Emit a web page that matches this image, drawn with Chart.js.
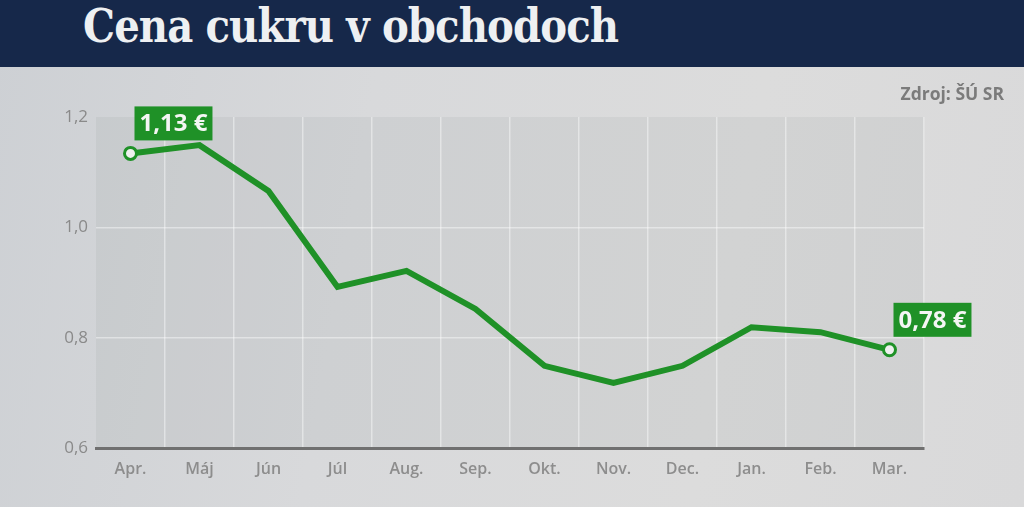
<!DOCTYPE html>
<html lang="sk">
<head>
    <meta charset="UTF-8">
    <title>Cena cukru v obchodoch</title>
    <script src="https://cdn.jsdelivr.net/npm/chart.js"></script>
    <style>
        html, body { margin: 0; padding: 0; }
        body {
            width: 1024px; height: 507px; overflow: hidden; position: relative;
            background: linear-gradient(100deg, #cdd0d4 0%, #d8d9db 35%, #dcdcdc 70%, #d9d9da 100%);
        }
        .header {
            position: absolute; left: 0; top: 0; width: 1024px; height: 67px;
            background: #16284a;
        }
        .header h1 {
            margin: 0; position: absolute; left: 83px; top: -1px;
            font-family: "DejaVu Serif", serif; font-weight: bold; font-size: 46px;
            color: #eef0f2; letter-spacing: -1px; white-space: nowrap;
        }
        .source {
            position: absolute; right: 20px; top: 81px;
            font-family: "Open Sans", sans-serif; font-weight: 700; font-size: 17.5px; color: #7b7b7b;
        }
        .chart-box { position: absolute; left: 0; top: 0; width: 1024px; height: 507px; }
    </style>
</head>
<body>
    <div class="chart-box"><canvas id="sugarChart"></canvas></div>
    <div class="header"><h1 id="title">Cena cukru v obchodoch</h1></div>
    <div class="source">Zdroj: ŠÚ SR</div>

    <script>
        const months = ['Apr.', 'Máj', 'Jún', 'Júl', 'Aug.', 'Sep.', 'Okt.', 'Nov.', 'Dec.', 'Jan.', 'Feb.', 'Mar.'];
        const prices = [1.134, 1.149, 1.066, 0.892, 0.921, 0.852, 0.749, 0.718, 0.749, 0.819, 0.810, 0.778];
        const yTicks = [0.6, 0.8, 1.0, 1.2];

        const green = '#1f9127';

        // squeeze title to the width of the original
        const title = document.getElementById('title');
        title.style.transformOrigin = 'left top';
        title.style.transform = 'scaleX(' + (535 / title.offsetWidth) + ')';

        const plotBg = {
            id: 'plotBg',
            beforeDraw(chart) {
                const a = chart.chartArea;
                const ctx = chart.ctx;
                ctx.save();
                ctx.fillStyle = 'rgba(90, 95, 100, 0.07)';
                ctx.fillRect(a.left, a.top, a.right - a.left, a.bottom - a.top);
                ctx.restore();
            }
        };

        const endLabels = {
            id: 'endLabels',
            afterDatasetsDraw(chart) {
                const ctx = chart.ctx;
                const pts = chart.getDatasetMeta(0).data;
                [0, pts.length - 1].forEach(i => {
                    const p = pts[i];
                    const text = prices[i].toFixed(2).replace('.', ',') + ' €';
                    ctx.save();
                    ctx.font = '700 24px "Open Sans", sans-serif';
                    const w = ctx.measureText(text).width + 10;
                    const h = 34;
                    const x = p.x + 4;
                    const y = p.y - 13 - h;
                    ctx.fillStyle = green;
                    ctx.fillRect(x, y, w, h);
                    ctx.fillStyle = '#f4f6f4';
                    ctx.textAlign = 'center';
                    ctx.textBaseline = 'middle';
                    ctx.fillText(text, x + w / 2, y + h / 2 + 1);
                    ctx.restore();
                });
            }
        };

        window.onload = function() {
            const ctx = document.getElementById('sugarChart').getContext('2d');
            const lastIdx = months.length;
            new Chart(ctx, {
                type: 'line',
                data: {
                    labels: months,
                    datasets: [{
                        data: prices,
                        borderColor: green,
                        borderWidth: 6,
                        borderJoinStyle: 'miter',
                        tension: 0,
                        pointRadius: prices.map((v, i) => (i === 0 || i === prices.length - 1) ? 6 : 0),
                        pointBorderWidth: 3,
                        pointBackgroundColor: '#eef0ee',
                        pointBorderColor: green,
                        clip: false
                    }]
                },
                options: {
                    responsive: true,
                    maintainAspectRatio: false,
                    animation: false,
                    layout: { autoPadding: false, padding: { left: 0, right: 100, top: 117, bottom: 0 } },
                    plugins: { legend: { display: false }, tooltip: { enabled: false } },
                    scales: {
                        x: {
                            offset: true,
                            grid: {
                                offset: true,
                                drawTicks: false,
                                color: ctx => (ctx.index === 0 || ctx.index === lastIdx ? 'rgba(0,0,0,0)' : 'rgba(255,255,255,0.42)'),
                                lineWidth: 1.5
                            },
                            border: { display: true, color: '#707070', width: 3 },
                            ticks: {
                                padding: 12,
                                color: '#8d8d8d',
                                font: { family: 'Open Sans', size: 16, weight: '600' }
                            },
                            afterFit(scale) { scale.height = 59; }
                        },
                        y: {
                            min: 0.6,
                            max: 1.2,
                            afterBuildTicks(scale) { scale.ticks = yTicks.map(v => ({ value: v })); },
                            grid: {
                                drawTicks: false,
                                color: ctx => (ctx.tick && (ctx.tick.value === 1.2 || ctx.tick.value === 0.6)) ? 'rgba(0,0,0,0)' : 'rgba(255,255,255,0.42)',
                                lineWidth: 1.5
                            },
                            border: { display: false },
                            ticks: {
                                padding: 8,
                                color: '#8a8a8a',
                                font: { family: 'Open Sans', size: 17 },
                                callback: v => v.toFixed(1).replace('.', ',')
                            },
                            afterFit(scale) { scale.width = 96; }
                        }
                    }
                },
                plugins: [plotBg, endLabels]
            });
        };
    </script>
</body>
</html>
